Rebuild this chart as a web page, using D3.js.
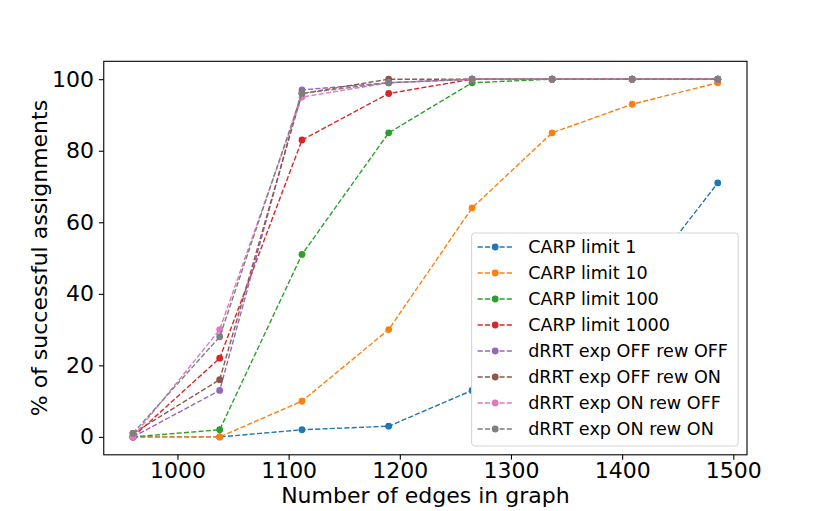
<!DOCTYPE html>
<html>
<head>
<meta charset="utf-8">
<script src="https://cdnjs.cloudflare.com/ajax/libs/d3/7.8.5/d3.min.js"></script>
<style>
  body { margin: 0; background: #fff; }
  text { font-family: "DejaVu Sans", sans-serif; fill: #000; }
</style>
</head>
<body>
<div id="chart-area"></div>
<script>
// graph sizes (number of edges)
const edges = [960, 1038, 1112, 1190, 1265, 1337, 1409, 1486];

const seriesNames = [
    "CARP limit 1",
    "CARP limit 10",
    "CARP limit 100",
    "CARP limit 1000",
    "dRRT exp OFF rew OFF",
    "dRRT exp OFF rew ON",
    "dRRT exp ON rew OFF",
    "dRRT exp ON rew ON"
];

// % of successful assignments, one array per series
const carp1 = [0, 0, 2, 3, 13, 26, 40, 71];
const carp10 = [0, 0, 10, 30, 64, 85, 93, 99];
const carp100 = [0, 2, 51, 85, 99, 100, 100, 100];
const carp1000 = [0, 22, 83, 96, 100, 100, 100, 100];
const drrtOffOff = [0, 13, 97, 99, 100, 100, 100, 100];
const drrtOffOn = [1, 16, 96, 100, 100, 100, 100, 100];
const drrtOnOff = [0, 30, 95, 99, 100, 100, 100, 100];
const drrtOnOn = [1, 28, 96, 99, 100, 100, 100, 100];

const seriesValues = [carp1, carp10, carp100, carp1000, drrtOffOff, drrtOffOn, drrtOnOff, drrtOnOn];

const xTicks = [1000, 1100, 1200, 1300, 1400, 1500];
const yTicks = [0, 20, 40, 60, 80, 100];

const colours = ["#1f77b4", "#ff7f0e", "#2ca02c", "#d62728", "#9467bd", "#8c564b", "#e377c2", "#7f7f7f"];

const svgWidth = 830;
const svgHeight = 511;
const margin = { top: 61.3, right: 83, bottom: 56.2, left: 103.75 };
const width = svgWidth - margin.left - margin.right;
const height = svgHeight - margin.top - margin.bottom;

const svg = d3.select("#chart-area")
    .append("svg")
    .attr("width", svgWidth)
    .attr("height", svgHeight);

const g = svg.append("g")
    .attr("transform", "translate(" + margin.left + ", " + margin.top + ")");

// matplotlib style 5% padding on both axes
const xMin = d3.min(edges), xMax = d3.max(edges);
const xPad = (xMax - xMin) * 0.05;
const x = d3.scaleLinear().domain([xMin - xPad, xMax + xPad]).range([0, width]);
const y = d3.scaleLinear().domain([-5, 105]).range([height, 0]);

/** Axes */
const tickLen = 4.86;
const tickPad = 4.86;
const axisFont = "22px";

const bottomAxis = d3.axisBottom(x).tickValues(xTicks).tickSize(tickLen).tickPadding(tickPad).tickFormat(d3.format("d"));
const leftAxis = d3.axisLeft(y).tickValues(yTicks).tickSize(tickLen).tickPadding(tickPad);

const xg = g.append("g")
    .attr("class", "bottom axis")
    .attr("transform", "translate(0, " + height + ")")
    .call(bottomAxis);
xg.select(".domain").remove();
xg.selectAll("line").attr("stroke", "#000").attr("stroke-width", 1.1);
xg.selectAll("text")
    .attr("font-size", axisFont)
    .attr("font-family", "DejaVu Sans, sans-serif")
    .attr("dy", "0.627em")
    .style("fill", "black");

const yg = g.append("g")
    .attr("class", "left axis")
    .call(leftAxis);
yg.select(".domain").remove();
yg.selectAll("line").attr("stroke", "#000").attr("stroke-width", 1.1);
yg.selectAll("text")
    .attr("font-size", axisFont)
    .attr("font-family", "DejaVu Sans, sans-serif")
    .style("fill", "black");

/** Labeling */
g.append("text")
    .attr("class", "x axis-label")
    .attr("x", width / 2)
    .attr("y", height + 48)
    .attr("font-size", axisFont)
    .attr("text-anchor", "middle")
    .text("Number of edges in graph");

g.append("text")
    .attr("class", "y axis-label")
    .attr("x", -(height / 2))
    .attr("y", -57)
    .attr("font-size", axisFont)
    .attr("text-anchor", "middle")
    .attr("transform", "rotate(-90)")
    .text("% of successful assignments");

/** Data Render */
const line = d3.line()
    .x((d, i) => x(edges[i]))
    .y((d) => y(d));

seriesValues.forEach((vals, s) => {
    const sg = g.append("g").attr("class", "series");
    sg.append("path")
        .datum(vals)
        .attr("d", line)
        .attr("fill", "none")
        .attr("stroke", colours[s])
        .attr("stroke-width", 1.39)
        .attr("stroke-dasharray", "5.1,2.2");
    sg.selectAll("circle")
        .data(vals)
        .enter()
        .append("circle")
        .attr("cx", (d, i) => x(edges[i]))
        .attr("cy", (d) => y(d))
        .attr("r", 3.4)
        .attr("fill", colours[s]);
});

/** Frame */
g.append("rect")
    .attr("x", 0)
    .attr("y", 0)
    .attr("width", width)
    .attr("height", height)
    .attr("fill", "none")
    .attr("stroke", "#000")
    .attr("stroke-width", 1.1);

/** Legend */
const fs = 17.6;
const rowH = 26;
const legW = 266.6;
const legH = 8 * rowH + 5;
const legX = width - 8.8 - legW;
const legY = height - 8.8 - legH;

const legend = g.append("g")
    .attr("class", "legend")
    .attr("transform", "translate(" + legX + ", " + legY + ")");

legend.append("rect")
    .attr("width", legW)
    .attr("height", legH)
    .attr("rx", 3.5)
    .attr("fill", "#fff")
    .attr("stroke", "#d6d6d6")
    .attr("stroke-width", 1.1);

const item = legend.selectAll(".item")
    .data(seriesNames)
    .enter()
    .append("g")
    .attr("class", "item")
    .attr("transform", (d, i) => "translate(0, " + (14 + i * rowH) + ")");

item.append("line")
    .attr("x1", 6)
    .attr("x2", 6 + 2 * fs)
    .attr("stroke", (d, i) => colours[i])
    .attr("stroke-width", 1.39)
    .attr("stroke-dasharray", "5.1,2.2");

item.append("circle")
    .attr("cx", 6 + fs)
    .attr("r", 3.4)
    .attr("fill", (d, i) => colours[i]);

item.append("text")
    .attr("x", 56.6)
    .attr("dy", "0.36em")
    .attr("font-size", fs + "px")
    .text((d) => d);
</script>
</body>
</html>
